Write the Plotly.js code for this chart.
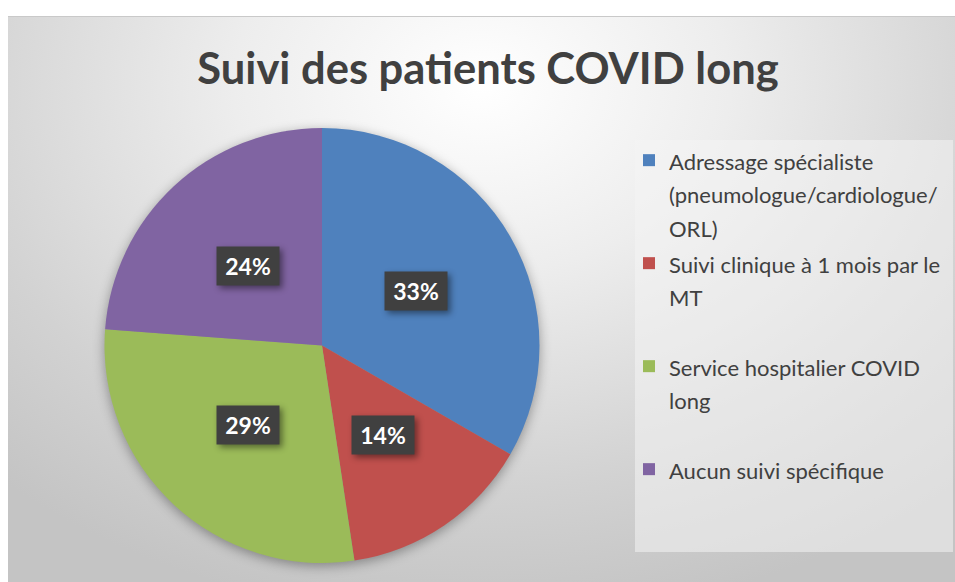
<!DOCTYPE html>
<html>
<head>
<meta charset="utf-8">
<script src="https://cdn.plot.ly/plotly-3.0.1.min.js"></script>
<style>
  html, body { margin: 0; padding: 0; background: #ffffff; }
  #bg { position: absolute; left: 8px; top: 16px; width: 947px; height: 566px;
        background: radial-gradient(ellipse 75% 95% at 50% 12%, #ffffff 0%, #ededed 35%, #d2d2d2 75%, #c4c4c4 100%);
        border-top: 1px solid #c9c9c9; box-sizing: border-box; }
  #chart { position: absolute; left: 0; top: 0; width: 955px; height: 582px; }
  .pielayer .trace { filter: drop-shadow(0px 3px 6px rgba(0,0,0,0.35)); }
  .annotation rect.bg { filter: drop-shadow(3px 3px 3px rgba(0,0,0,0.45)); }
</style>
</head>
<body>
<div id="bg"></div>
<div id="chart"></div>
<script>
// ---- data ----
const categories = [
  "Adressage spécialiste<br>(pneumologue/cardiologue/<br>ORL)",
  "Suivi clinique à 1 mois par le<br>MT",
  "Service hospitalier COVID<br>long",
  "Aucun suivi spécifique"
];
const counts = [7, 3, 6, 5];
const sliceColors = ["#4f81bd", "#c0504d", "#9bbb59", "#8064a2"];
const chartTitle = "Suivi des patients COVID long";

// ---- layout geometry ----
const W = 955, H = 582;
const pieDomain = { x: [104.5 / W, 539.5 / W], y: [1 - 563 / H, 1 - 128 / H] };
const LEGEND_LINES = 3;
const LEGEND_TEXT_PX = 22;

// pad legend labels to equal line count so entries are evenly spaced
const legendLabels = categories.map(c => {
  const lines = c.split("<br>");
  while (lines.length < LEGEND_LINES) lines.push("\u00a0");
  return lines.map(l => '<span style="font-size:' + LEGEND_TEXT_PX + 'px">' + l + '</span>').join("<br>");
});

const total = counts.reduce((a, b) => a + b, 0);

// data label positions derived from the slice angles (clockwise from 12 o'clock)
const cxPaper = (pieDomain.x[0] + pieDomain.x[1]) / 2;
const cyPaper = (pieDomain.y[0] + pieDomain.y[1]) / 2;
const rPx = Math.min((pieDomain.x[1] - pieDomain.x[0]) * W, (pieDomain.y[1] - pieDomain.y[0]) * H) / 2;
let cum = 0;
const annotations = counts.map(v => {
  const a0 = cum / total * 2 * Math.PI;
  cum += v;
  const a1 = cum / total * 2 * Math.PI;
  const mid = (a0 + a1) / 2;
  const d = 0.5 * rPx;
  return {
    xref: "paper", yref: "paper",
    x: cxPaper + d * Math.sin(mid) / W,
    y: cyPaper + d * Math.cos(mid) / H,
    xanchor: "center", yanchor: "middle",
    text: Math.round(v / total * 100) + "%",
    showarrow: false,
    font: { family: "Lato, 'Open Sans', sans-serif", size: 23, color: "#ffffff", weight: "bold" },
    bgcolor: "#404040",
    width: 62, height: 38,
    borderpad: 0
  };
});

const trace = {
  type: "pie",
  labels: legendLabels,
  values: counts,
  marker: { colors: sliceColors, line: { width: 0 } },
  sort: false,
  direction: "clockwise",
  rotation: 0,
  textinfo: "none",
  hoverinfo: "none",
  domain: pieDomain,
  showlegend: true
};

const layout = {
  width: W, height: H,
  margin: { l: 0, r: 0, t: 0, b: 0 },
  paper_bgcolor: "rgba(0,0,0,0)",
  plot_bgcolor: "rgba(0,0,0,0)",
  title: {
    text: chartTitle,
    font: { family: "Lato, 'Open Sans', sans-serif", size: 43.5, color: "#404040", weight: "bold" },
    xref: "paper", yref: "paper",
    x: 488 / W, xanchor: "center",
    y: 1 - 69 / H, yanchor: "middle"
  },
  showlegend: true,
  legend: {
    x: 629 / W, xanchor: "left",
    y: 1 - 137 / H, yanchor: "top",
    bgcolor: "rgba(0,0,0,0)",
    borderwidth: 0,
    valign: "top",
    traceorder: "normal",
    font: { family: "Lato, 'Open Sans', sans-serif", size: 25.64, color: "#404040" }
  },
  shapes: [{
    type: "rect", xref: "paper", yref: "paper", layer: "below",
    x0: 635 / W, x1: 953 / W, y0: 1 - 552 / H, y1: 1 - 140 / H,
    fillcolor: "rgba(244,244,244,0.55)", line: { width: 0 }
  }],
  annotations: annotations
};

Plotly.newPlot("chart", [trace], layout, { displayModeBar: false, staticPlot: true });
</script>
</body>
</html>
